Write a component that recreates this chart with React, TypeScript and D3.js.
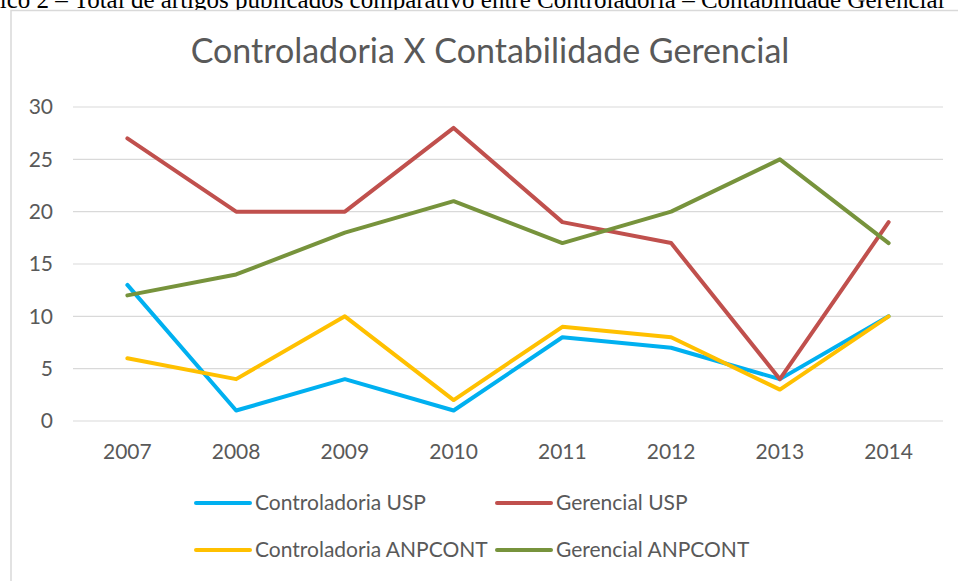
import { useMemo } from 'react'
import * as d3 from 'd3'

// categories + series
const years = ['2007', '2008', '2009', '2010', '2011', '2012', '2013', '2014']
const controladoriaUSP = [13, 1, 4, 1, 8, 7, 4, 10]
const gerencialUSP = [27, 20, 20, 28, 19, 17, 4, 19]
const controladoriaANPCONT = [6, 4, 10, 2, 9, 8, 3, 10]
const gerencialANPCONT = [12, 14, 18, 21, 17, 20, 25, 17]
const yTicks = [0, 5, 10, 15, 20, 25, 30]

const SERIES = [
  { name: 'Controladoria USP', values: controladoriaUSP, color: '#00B0F0' },
  { name: 'Gerencial USP', values: gerencialUSP, color: '#C0504D' },
  { name: 'Controladoria ANPCONT', values: controladoriaANPCONT, color: '#FFC000' },
  { name: 'Gerencial ANPCONT', values: gerencialANPCONT, color: '#77933C' },
]

const W = 958
const H = 581
const FONT = 'Lato, "Open Sans", sans-serif'
const TXT = '#595959'

export default function App() {
  const x = useMemo(() => d3.scaleBand().domain(years).range([73, 943]), [])
  const y = useMemo(() => d3.scaleLinear().domain([0, 30]).range([421, 107]), [])

  const line = d3.line<number>()
    .x((_, i) => (x(years[i]) ?? 0) + x.bandwidth() / 2)
    .y(d => y(d))

  // legend slots: 2 columns x 2 rows
  const legendPos = [
    { sx: 196, ty: 503 },
    { sx: 497, ty: 503 },
    { sx: 196, ty: 550 },
    { sx: 497, ty: 550 },
  ]

  return (
    <svg width={W} height={H} style={{ position: 'absolute', left: 0, top: 0, background: '#fff' }}>
      {/* caption from the page above, only its lower part shows */}
      <text x={-46} y={8} fontFamily='"Liberation Serif", serif' fontSize={25} fill="#000">
        Gráfico 2 – Total de artigos publicados comparativo entre Controladoria – Contabilidade Gerencial
      </text>

      {/* chart frame */}
      <rect x={11} y={10.5} width={W} height={H} fill="#fff" stroke="#d9d9d9" strokeWidth={1.5} />

      <text x={490} y={63} textAnchor="middle" fontFamily={FONT} fontSize={34} fill={TXT}>
        Controladoria X Contabilidade Gerencial
      </text>

      {/* gridlines + y labels */}
      {yTicks.map(t => (
        <g key={t}>
          <line x1={73} x2={943} y1={y(t)} y2={y(t)} stroke="#d9d9d9" strokeWidth={1.2} />
          <text x={53} y={y(t)} dy="0.35em" textAnchor="end" fontFamily={FONT} fontSize={21} fill={TXT}>
            {t}
          </text>
        </g>
      ))}

      {/* x labels */}
      {years.map(yr => (
        <text key={yr} x={(x(yr) ?? 0) + x.bandwidth() / 2} y={452} dy="0.35em" textAnchor="middle"
          fontFamily={FONT} fontSize={21} fill={TXT}>
          {yr}
        </text>
      ))}

      {/* lines */}
      {SERIES.map(s => (
        <path key={s.name} d={line(s.values) ?? ''} fill="none" stroke={s.color} strokeWidth={4}
          strokeLinejoin="round" strokeLinecap="round" />
      ))}

      {/* legend */}
      {SERIES.map((s, i) => (
        <g key={s.name}>
          <line x1={legendPos[i].sx} x2={legendPos[i].sx + 54} y1={legendPos[i].ty} y2={legendPos[i].ty}
            stroke={s.color} strokeWidth={4} strokeLinecap="round" />
          <text x={legendPos[i].sx + 59} y={legendPos[i].ty} dy="0.35em" fontFamily={FONT} fontSize={21} fill={TXT}>
            {s.name}
          </text>
        </g>
      ))}
    </svg>
  )
}
